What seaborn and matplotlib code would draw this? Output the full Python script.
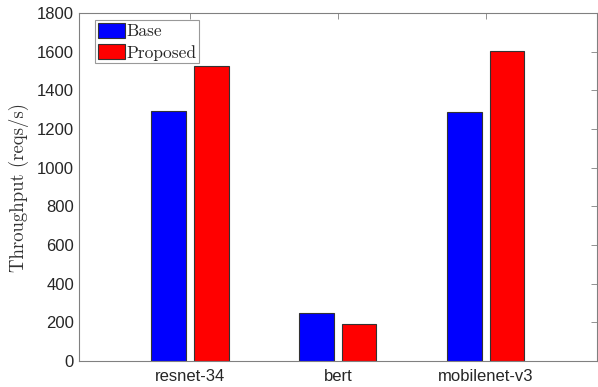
import matplotlib
matplotlib.use("Agg")
import matplotlib.pyplot as plt
import seaborn as sns
import pandas as pd

models = ["resnet-34", "bert", "mobilenet-v3"]
base = [1292, 247, 1290]
proposed = [1527, 193, 1605]
yticks = [0, 200, 400, 600, 800, 1000, 1200, 1400, 1600, 1800]

df = pd.DataFrame({
    "model": models * 2,
    "throughput": base + proposed,
    "config": ["Base"] * len(models) + ["Proposed"] * len(models),
})

sns.set_style("white")
plt.rcParams["font.family"] = ["Liberation Sans", "DejaVu Sans"]

fig = plt.figure(figsize=(5.98, 3.87), dpi=100)
ax = fig.add_axes([0.132, 0.067, 0.866, 0.899])

sns.barplot(data=df, x="model", y="throughput", hue="config",
            palette={"Base": "#0000ff", "Proposed": "#ff0000"},
            width=0.58, gap=0.2, edgecolor="#333333", linewidth=0.8,
            saturation=1, ax=ax)

ax.set_xlim(-0.75, 2.75)
ax.set_ylim(0, 1800)
ax.set_yticks(yticks)
ax.set_xlabel("")
ax.set_ylabel("Throughput (reqs/s)", family="cmr10", fontsize=13.5,
              color="#333333", labelpad=6)

for s in ax.spines.values():
    s.set_visible(True)
    s.set_color("#808080")
    s.set_linewidth(0.8)

ax.tick_params(direction="in", length=4, width=0.6, color="#808080",
               top=True, right=True, labelsize=12, labelcolor="#262626")
ax.tick_params(axis="x", pad=6)

leg = ax.legend(loc="upper left", bbox_to_anchor=(0.031, 0.98),
                prop={"family": "cmr10", "size": 12.5},
                frameon=True, fancybox=False, handlelength=1.55, handleheight=0.95,
                handletextpad=0.1, borderpad=0.15, labelspacing=0.3,
                borderaxespad=0.0)
leg.get_frame().set_edgecolor("#808080")
leg.get_frame().set_linewidth(0.8)

fig.savefig("out.png", dpi=100)
